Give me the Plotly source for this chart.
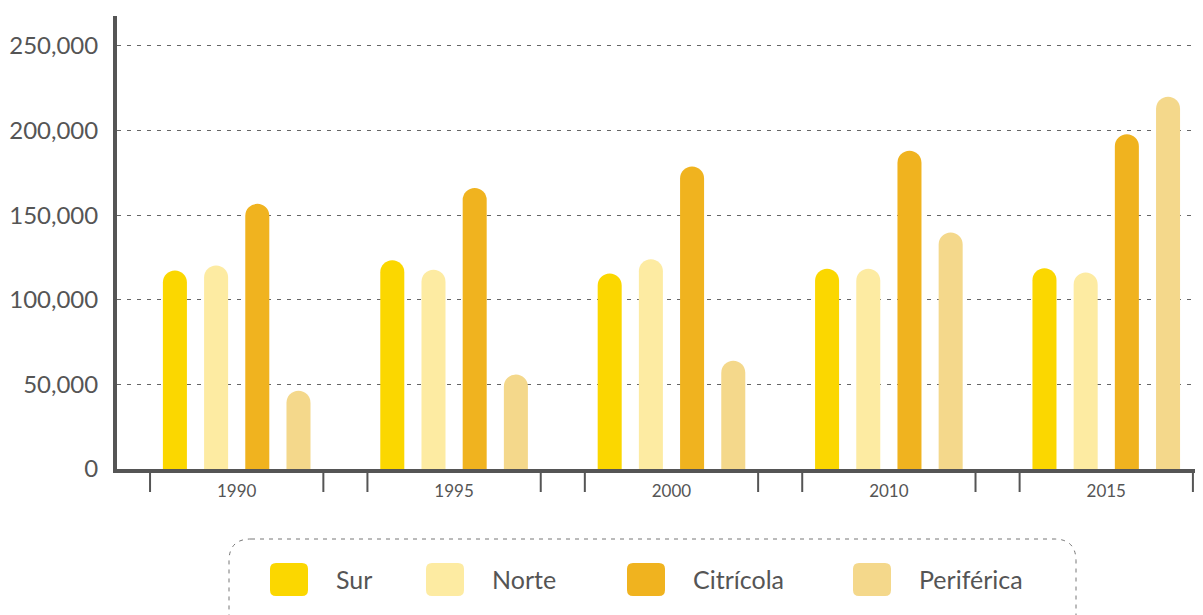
import plotly.graph_objects as go

years = ["1990", "1995", "2000", "2010", "2015"]
series_names = ["Sur", "Norte", "Citrícola", "Periférica"]
sur = [117300, 123400, 115500, 118300, 118700]
norte = [120200, 117700, 124000, 118300, 116100]
citricola = [156700, 166100, 178700, 188100, 197800]
periferica = [46200, 55900, 64000, 139700, 220000]
colors = ["#FBD700", "#FDEBA2", "#F0B31F", "#F4D88B"]
y_ticks = [0, 50000, 100000, 150000, 200000, 250000]

# the page body has an 8px margin; lay out in page pixels and compensate
OFF = 8
W, H = 1203 - OFF, 615 - OFF
PL, PT, PB, PR = 117, 16, 469, 1203  # plot area in page pixels
ML, MT, MR = PL - OFF, PT - OFF, 0
MB = H - (PB - OFF)
PW, PH = PR - PL, PB - PT

def px_x(p):
    return (p - PL) / PW

def px_y(p):
    return (PB - p) / PH

fig = go.Figure()
for name, vals, col in zip(series_names, [sur, norte, citricola, periferica], colors):
    fig.add_trace(go.Bar(x=years, y=vals, name=name, marker=dict(color=col, line=dict(width=0)),
                         showlegend=False))

shapes = []
half = 0.3986
for i in range(len(years)):
    for dx in (-half, half):
        shapes.append(dict(type="line", xref="x", yref="paper", x0=i + dx, x1=i + dx,
                           y0=px_y(472), y1=px_y(492), line=dict(color="#555555", width=2)))

def rrect(x0, y0, x1, y1, r):
    X = lambda p: px_x(p)
    Y = lambda p: px_y(p)
    return (f"M {X(x0 + r)} {Y(y0)} L {X(x1 - r)} {Y(y0)} Q {X(x1)} {Y(y0)} {X(x1)} {Y(y0 + r)} "
            f"L {X(x1)} {Y(y1 - r)} Q {X(x1)} {Y(y1)} {X(x1 - r)} {Y(y1)} "
            f"L {X(x0 + r)} {Y(y1)} Q {X(x0)} {Y(y1)} {X(x0)} {Y(y1 - r)} "
            f"L {X(x0)} {Y(y0 + r)} Q {X(x0)} {Y(y0)} {X(x0 + r)} {Y(y0)} Z")

shapes.append(dict(type="path", xref="paper", yref="paper", path=rrect(229, 539, 1076, 660, 22),
                   line=dict(color="#777777", width=1, dash="4px,5px"), fillcolor="rgba(0,0,0,0)"))

annotations = []
sw_x = [270, 426, 627, 853]
tx_x = [334, 490, 691, 917]
for name, col, sx, tx in zip(series_names, colors, sw_x, tx_x):
    shapes.append(dict(type="path", xref="paper", yref="paper", path=rrect(sx, 563, sx + 38, 596, 6),
                       line=dict(width=0), fillcolor=col))
    annotations.append(dict(xref="paper", yref="paper", x=px_x(tx), y=px_y(579), text=name,
                            showarrow=False, xanchor="left", yanchor="middle",
                            font=dict(family="Lato", size=25, color="#555555")))

fig.update_layout(
    width=W, height=H,
    margin=dict(l=ML, r=MR, t=MT, b=MB, autoexpand=False),
    paper_bgcolor="white", plot_bgcolor="white",
    barmode="group", bargap=0.242, bargroupgap=0.417, barcornerradius=12,
    shapes=shapes, annotations=annotations,
    showlegend=False,
    font=dict(family="Lato", color="#555555"),
)
fig.update_xaxes(
    type="category", range=[-0.5506, 4.445],
    showline=True, linecolor="#555555", linewidth=4,
    showgrid=False, ticks="", ticklabelstandoff=4,
    tickfont=dict(family="Lato", size=17, color="#555555"),
    fixedrange=True,
)
fig.update_yaxes(
    range=[0, 267700], tickvals=y_ticks, tickformat=",d",
    showline=True, linecolor="#555555", linewidth=4,
    showgrid=True, gridcolor="#666666", gridwidth=1.3, griddash="4px,6px",
    zeroline=False, ticks="", ticklabelstandoff=10,
    tickfont=dict(family="Lato", size=24, color="#555555"),
    fixedrange=True,
)

fig.write_html("out.html")
